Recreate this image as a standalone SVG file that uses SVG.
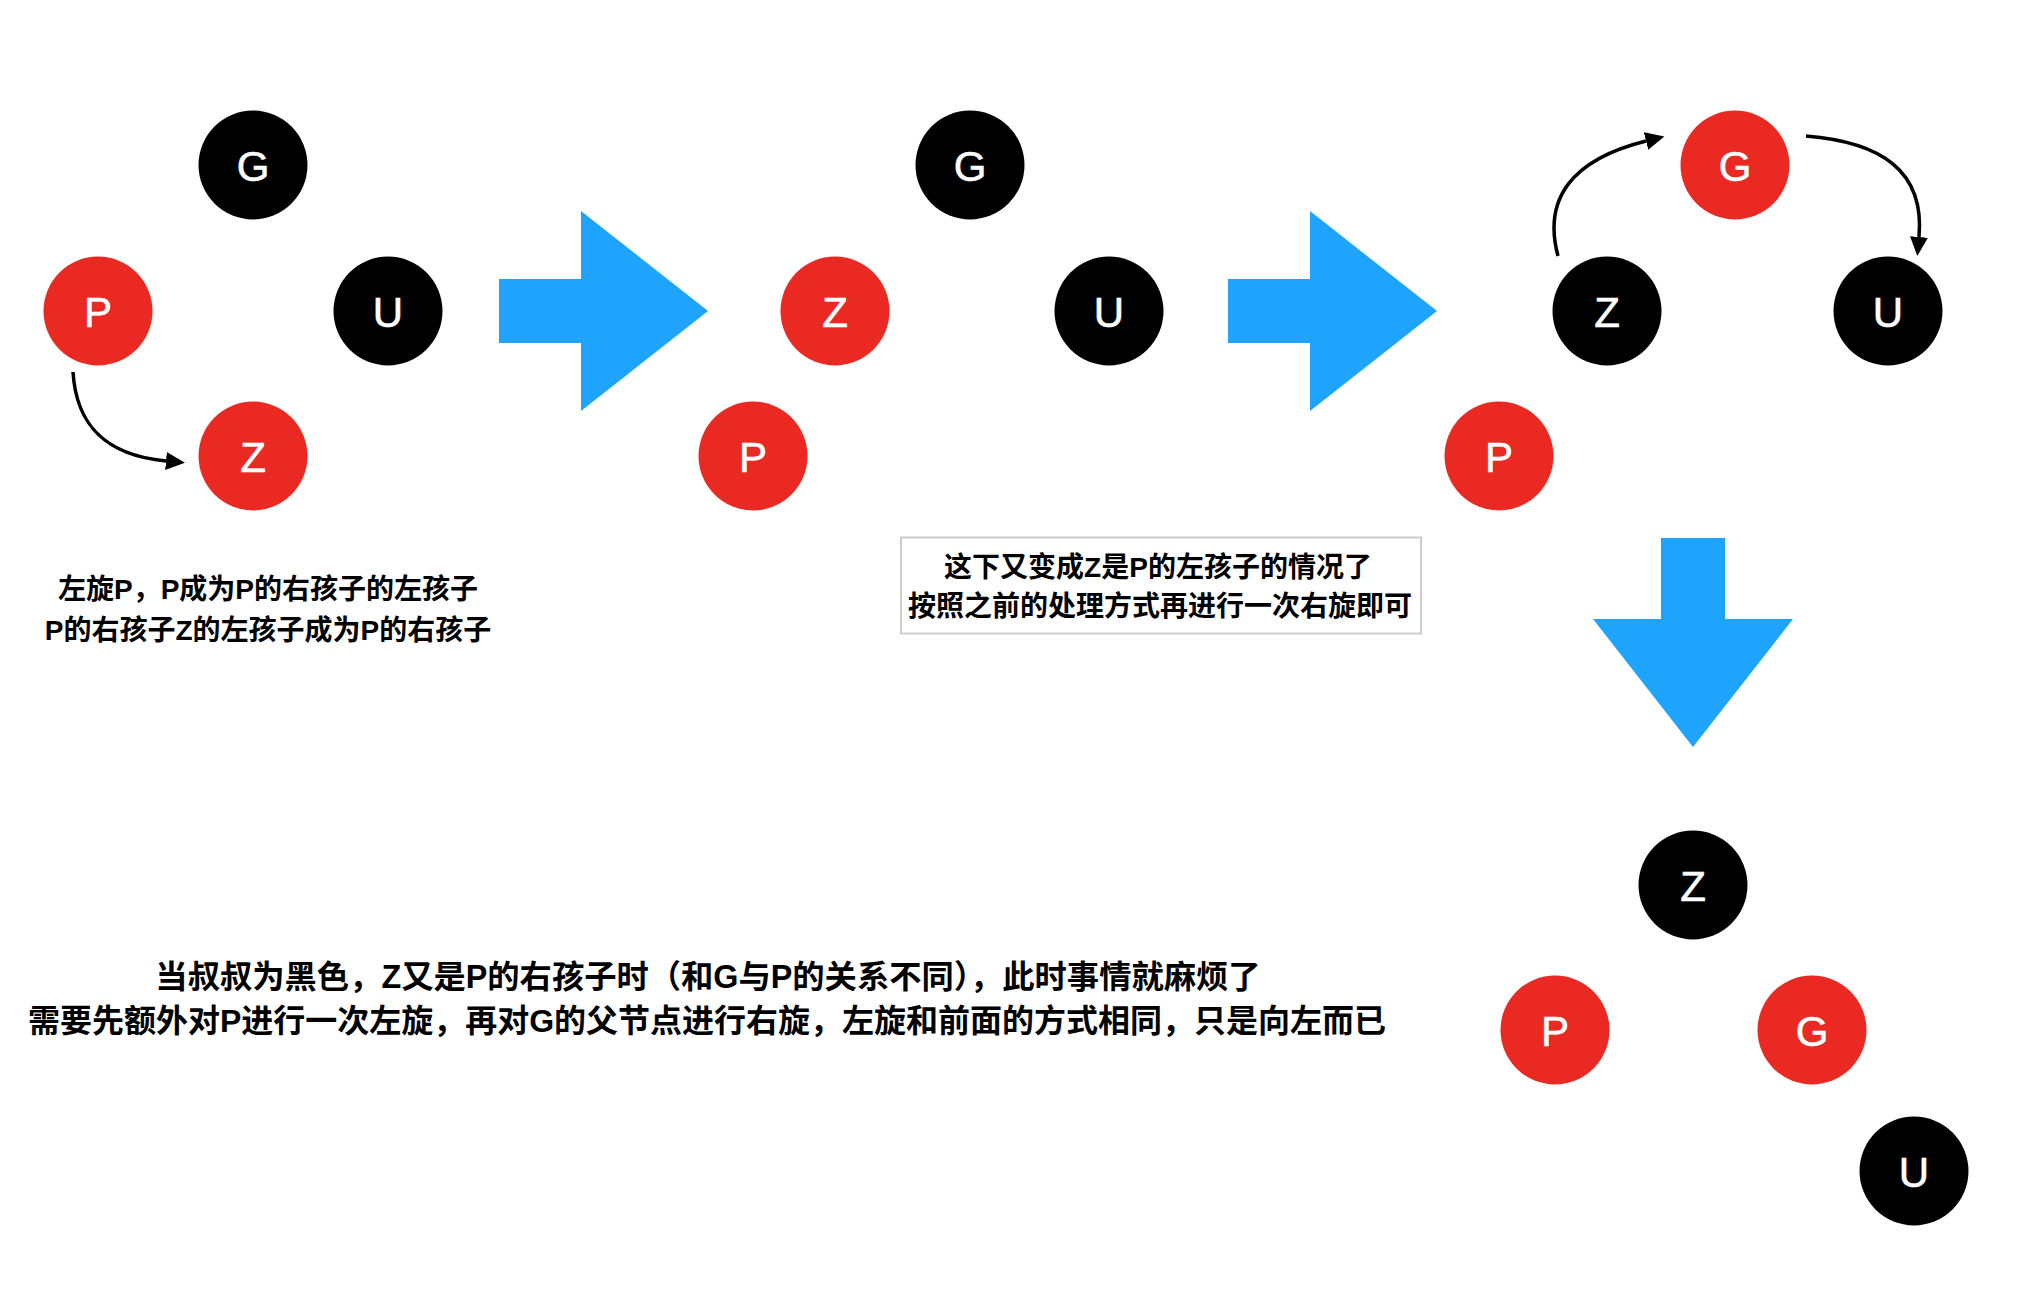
<svg xmlns="http://www.w3.org/2000/svg" width="2026" height="1312" viewBox="0 0 2026 1312">
<style>
.red{fill:#EA2922}
.blk{fill:#000}
.lbl{fill:#fff;font-family:"Liberation Sans","Noto Sans",sans-serif;font-size:42px;text-anchor:middle;stroke:#fff;stroke-width:0.6}
.big{fill:#1EA4FC}
.note{fill:#000;font-family:"Liberation Sans","Noto Sans CJK SC",sans-serif;font-weight:bold;text-anchor:middle}
.con{fill:none;stroke:#000;stroke-width:3.5;marker-end:url(#ah)}
</style>
<defs>
<marker id="ah" markerUnits="userSpaceOnUse" markerWidth="20" markerHeight="20" refX="0" refY="9" orient="auto" viewBox="0 0 20 18">
<path d="M0,0 L19,9 L0,18 Z" fill="#000"/>
</marker>
</defs>
<rect width="2026" height="1312" fill="#fff"/>

<g id="p1-G"><circle class="blk" cx="253" cy="165" r="54.5"/><text class="lbl" x="253" y="181">G</text></g>
<g id="p1-P"><circle class="red" cx="98" cy="311" r="54.5"/><text class="lbl" x="98" y="327">P</text></g>
<g id="p1-U"><circle class="blk" cx="388" cy="311" r="54.5"/><text class="lbl" x="388" y="327">U</text></g>
<g id="p1-Z"><circle class="red" cx="253" cy="456" r="54.5"/><text class="lbl" x="253" y="472">Z</text></g>

<g id="p2-G"><circle class="blk" cx="970" cy="165" r="54.5"/><text class="lbl" x="970" y="181">G</text></g>
<g id="p2-Z"><circle class="red" cx="835" cy="311" r="54.5"/><text class="lbl" x="835" y="327">Z</text></g>
<g id="p2-U"><circle class="blk" cx="1109" cy="311" r="54.5"/><text class="lbl" x="1109" y="327">U</text></g>
<g id="p2-P"><circle class="red" cx="753" cy="456" r="54.5"/><text class="lbl" x="753" y="472">P</text></g>

<g id="p3-G"><circle class="red" cx="1735" cy="165" r="54.5"/><text class="lbl" x="1735" y="181">G</text></g>
<g id="p3-Z"><circle class="blk" cx="1607" cy="311" r="54.5"/><text class="lbl" x="1607" y="327">Z</text></g>
<g id="p3-U"><circle class="blk" cx="1888" cy="311" r="54.5"/><text class="lbl" x="1888" y="327">U</text></g>
<g id="p3-P"><circle class="red" cx="1499" cy="456" r="54.5"/><text class="lbl" x="1499" y="472">P</text></g>

<g id="p4-Z"><circle class="blk" cx="1693" cy="885" r="54.5"/><text class="lbl" x="1693" y="901">Z</text></g>
<g id="p4-P"><circle class="red" cx="1555" cy="1030" r="54.5"/><text class="lbl" x="1555" y="1046">P</text></g>
<g id="p4-G"><circle class="red" cx="1812" cy="1030" r="54.5"/><text class="lbl" x="1812" y="1046">G</text></g>
<g id="p4-U"><circle class="blk" cx="1914" cy="1171" r="54.5"/><text class="lbl" x="1914" y="1187">U</text></g>

<g id="step-arrows">
<path class="big" d="M499,279 L581,279 L581,211 L708,311 L581,411 L581,343 L499,343 Z"/>
<path class="big" d="M1228,279 L1310,279 L1310,211 L1437,311 L1310,411 L1310,343 L1228,343 Z"/>
<path class="big" d="M1661,538 L1725,538 L1725,619 L1793,619 L1693,747 L1593,619 L1661,619 Z"/>
</g>

<g id="connectors">
<path class="con" d="M73,372 C76,420 100,455 166,461"/>
<path class="con" d="M1558,256 C1543,200 1570,160 1646,141"/>
<path class="con" d="M1806,136 C1880,142 1925,170 1919,237"/>
</g>

<g id="note-1">
<text class="note" font-size="28" x="268" y="599">左旋P，P成为P的右孩子的左孩子</text>
<text class="note" font-size="28" x="268" y="640">P的右孩子Z的左孩子成为P的右孩子</text>
</g>

<g id="note-2">
<rect x="901" y="537.5" width="520" height="96" fill="#fff" stroke="#CCCCCC" stroke-width="2"/>
<text class="note" font-size="28" x="1158" y="577">这下又变成Z是P的左孩子的情况了</text>
<text class="note" font-size="28" x="1160" y="616">按照之前的处理方式再进行一次右旋即可</text>
</g>

<g id="note-3">
<text class="note" font-size="32.3" x="708" y="988">当叔叔为黑色，Z又是P的右孩子时（和G与P的关系不同），此时事情就麻烦了</text>
<text class="note" font-size="32" x="707" y="1032">需要先额外对P进行一次左旋，再对G的父节点进行右旋，左旋和前面的方式相同，只是向左而已</text>
</g>
</svg>
